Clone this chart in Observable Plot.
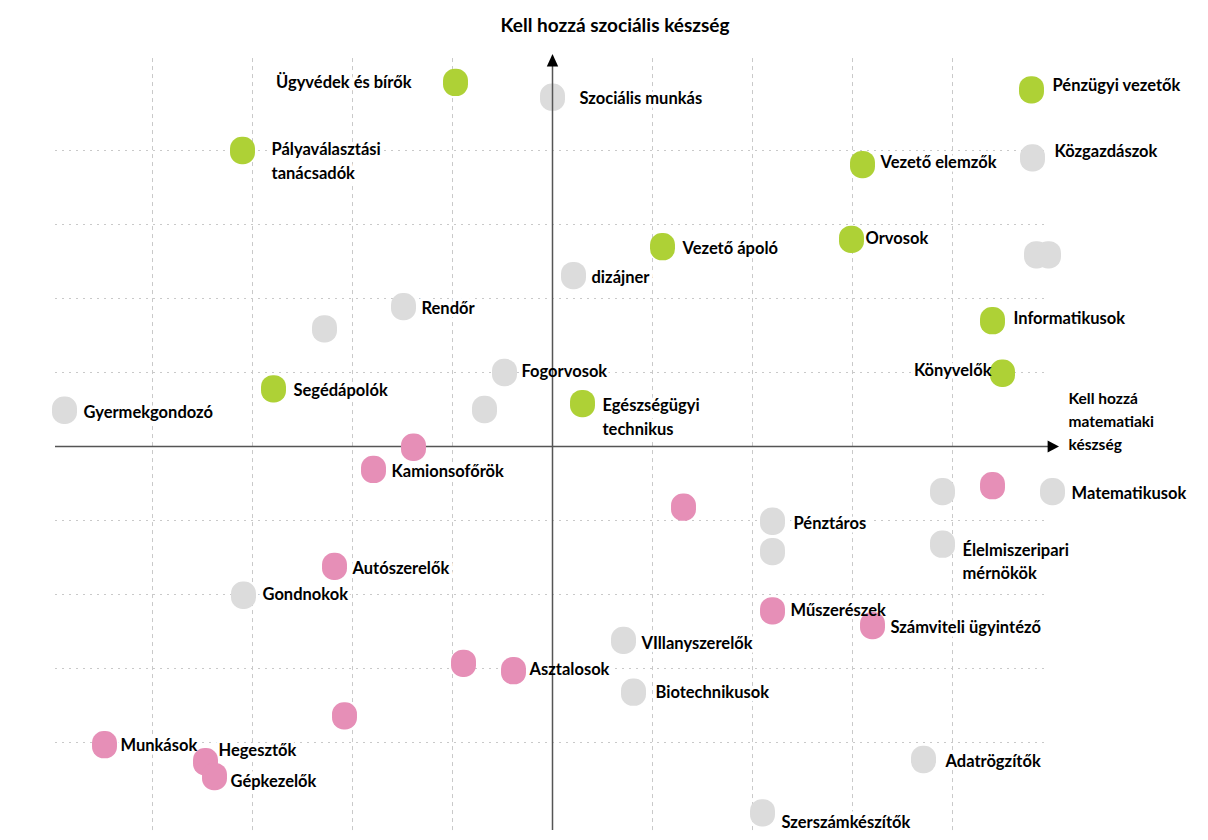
<!DOCTYPE html>
<html><head><meta charset="utf-8">
<script src="https://cdn.jsdelivr.net/npm/d3@7"></script>
<script src="https://cdn.jsdelivr.net/npm/@observablehq/plot@0.6"></script>
<style>
body{margin:0;background:#fff;font-family:Lato,"Open Sans",sans-serif;}
#title{height:50px;line-height:50px;text-align:center;font-weight:bold;font-size:19px;padding-left:22px;color:#000;}
#chart svg{display:block;}
</style></head><body>
<div id="title">Kell hozzá szociális készség</div>
<div id="chart"></div>
<script>
// ---- data ----
const names = [
  "Ügyvédek és bírők","Pályaválasztási\ntanácsadók","Pénzügyi vezetők","Vezető elemzők","Vezető ápoló","Orvosok",
  "Informatikusok","Könyvelők","Segédápolók","Egészségügyi\ntechnikus",
  "Szociális munkás","Közgazdászok","","","dizájner","Rendőr","","Fogorvosok","","Gyermekgondozó",
  "Matematikusok","","Pénztáros","","Élelmiszeripari\nmérnökök","Gondnokok","VIllanyszerelők","Biotechnikusok",
  "Adatrögzítők","Szerszámkészítők",
  "","Kamionsofőrök","","","Autószerelők","Műszerészek","Számviteli ügyintéző","","Asztalosok","",
  "Munkások","Hegesztők","Gépkezelők"
];
const mathSkill = [
  -0.97,-3.10,4.79,3.10,1.10,2.99,
  4.40,4.50,-2.79,0.30,
  0.00,4.80,4.84,4.96,0.21,-1.49,-2.28,-0.48,-0.68,-4.88,
  5.00,3.90,2.20,2.20,3.90,-3.09,0.71,0.81,
  3.71,2.10,
  -1.39,-1.79,1.31,4.40,-2.18,2.20,3.20,-0.89,-0.39,-2.08,
  -4.48,-3.47,-3.38
];
const socialSkill = [
  4.92,4.00,4.82,3.81,2.70,2.80,
  1.70,0.99,0.78,0.58,
  4.72,3.90,2.59,2.59,2.31,1.89,1.59,1.00,0.50,0.49,
  -0.61,-0.61,-1.01,-1.42,-1.32,-2.01,-2.62,-3.32,
  -4.23,-4.95,
  -0.01,-0.31,-0.82,-0.53,-1.62,-2.22,-2.42,-2.93,-3.03,-3.64,
  -4.03,-4.26,-4.46
];
const group = [
  "zöld","zöld","zöld","zöld","zöld","zöld","zöld","zöld","zöld","zöld",
  "szürke","szürke","szürke","szürke","szürke","szürke","szürke","szürke","szürke","szürke",
  "szürke","szürke","szürke","szürke","szürke","szürke","szürke","szürke","szürke","szürke",
  "rózsaszín","rózsaszín","rózsaszín","rózsaszín","rózsaszín","rózsaszín","rózsaszín","rózsaszín","rózsaszín","rózsaszín",
  "rózsaszín","rózsaszín","rózsaszín"
];
const groups = ["zöld","szürke","rózsaszín"];
const gridTicks = [-4,-3,-2,-1,1,2,3,4];
const xAxisTitle = "Kell hozzá\nmatematiaki\nkészség";

// ---- layout (label placement) ----
const labelPlace = {
  "Ügyvédek és bírők": {dx:-44, dy:-2, anchor:"end"},
  "Pályaválasztási\ntanácsadók": {dx:29, dy:9},
  "Pénzügyi vezetők": {dx:21, dy:-6},
  "Vezető elemzők": {dx:18, dy:-4},
  "Vezető ápoló": {dx:20, dy:0},
  "Orvosok": {dx:14, dy:-3},
  "Informatikusok": {dx:21, dy:-4},
  "Könyvelők": {dx:-11, dy:-5, anchor:"end"},
  "Segédápolók": {dx:20, dy:0},
  "Egészségügyi\ntechnikus": {dx:20, dy:12},
  "Szociális munkás": {dx:27, dy:-1},
  "Közgazdászok": {dx:22, dy:-8},
  "dizájner": {dx:18, dy:0},
  "Rendőr": {dx:18, dy:0},
  "Fogorvosok": {dx:17, dy:-3},
  "Gyermekgondozó": {dx:19, dy:0},
  "Matematikusok": {dx:19, dy:0},
  "Pénztáros": {dx:21, dy:0},
  "Élelmiszeripari\nmérnökök": {dx:20, dy:16},
  "Gondnokok": {dx:19, dy:-3},
  "VIllanyszerelők": {dx:18, dy:1},
  "Biotechnikusok": {dx:22, dy:-2},
  "Adatrögzítők": {dx:22, dy:0},
  "Szerszámkészítők": {dx:19, dy:8},
  "Kamionsofőrök": {dx:18, dy:0},
  "Autószerelők": {dx:18, dy:0},
  "Műszerészek": {dx:18, dy:-2},
  "Számviteli ügyintéző": {dx:18, dy:0},
  "Asztalosok": {dx:16, dy:-3},
  "Munkások": {dx:16, dy:-1},
  "Hegesztők": {dx:13, dy:-13},
  "Gépkezelők": {dx:16, dy:3}
};

const points = names.map((n,i)=>({name:n, x:mathSkill[i], y:socialSkill[i], g:group[i]}));
const labelled = points.filter(d=>d.name);

const roundedSquare = {
  draw(context, size) {
    const r = Math.sqrt(size / Math.PI);
    const w = r * 0.96, h = r * 1.05, c = r * 0.9;
    context.moveTo(-w + c, -h);
    context.arcTo(w, -h, w, h, c);
    context.arcTo(w, h, -w, h, c);
    context.arcTo(-w, h, -w, -h, c);
    context.arcTo(-w, -h, w, -h, c);
    context.closePath();
  }
};
const triRight = {draw(ctx, size){const r=Math.sqrt(size/Math.PI); ctx.moveTo(r,0); ctx.lineTo(-r*0.9,-r); ctx.lineTo(-r*0.9,r); ctx.closePath();}};
const triUp = {draw(ctx, size){const r=Math.sqrt(size/Math.PI); ctx.moveTo(0,-r*1.3); ctx.lineTo(-r*0.95,r*0.8); ctx.lineTo(r*0.95,r*0.8); ctx.closePath();}};

const xLo = -4.97, xHi = 4.94, yLo = -5.19, yHi = 5.28;
const font = "Lato, 'Open Sans', sans-serif";

const textMarks = (halo) => labelled.map(d => {
  const p = labelPlace[d.name] || {dx:18, dy:0};
  return Plot.text([d], {
    x:"x", y:"y", text:"name", dx:p.dx, dy:p.dy,
    textAnchor: p.anchor || "start", lineAnchor:"middle", lineHeight:1.42,
    fontSize:16.5, fontWeight:"bold", fontFamily:font,
    fill: halo ? "none" : "#000",
    stroke: halo ? "white" : "none", strokeWidth: halo ? 7 : 0, strokeLinejoin:"round"
  });
});

const chart = Plot.plot({
  width: 1208, height: 790,
  x: {domain:[-5,5], range:[52,1052], axis:null},
  y: {domain:[-5,5], range:[766,26], axis:null},
  color: {domain: groups, range: ["#aed136","#dcdcdc","#e68fb7"]},
  marks: [
    Plot.ruleX(gridTicks, {x: d=>d, y1: yLo, y2: yHi, stroke:"#c9c9c9", strokeWidth:1, strokeDasharray:"4,4"}),
    Plot.ruleY(gridTicks, {y: d=>d, x1: xLo, x2: xHi, stroke:"#c9c9c9", strokeWidth:1.2, strokeDasharray:"2,5"}),
    ...textMarks(true),
    Plot.ruleY([0], {x1: xLo, x2: 4.98, stroke:"#555", strokeWidth:1.5}),
    Plot.dot(points, {x:"x", y:"y", fill:"g", r:13, symbol: roundedSquare}),
    Plot.ruleX([0], {y1: yLo, y2: 5.15, stroke:"#555", strokeWidth:1.5}),
    Plot.dot([0], {x: 5.005, y: 0, r:6, symbol: triRight, fill:"#000"}),
    Plot.dot([0], {x: 0, y: 5.2, r:6, symbol: triUp, fill:"#000"}),
    ...textMarks(false),
    Plot.text([xAxisTitle], {x: 5.16, y: 0.365, text: d=>d, textAnchor:"start", lineAnchor:"middle", lineHeight:1.5, fontSize:15.5, fontWeight:"bold", fontFamily:font, fill:"#000"})
  ]
});
document.getElementById("chart").appendChild(chart);
</script>
</body></html>
